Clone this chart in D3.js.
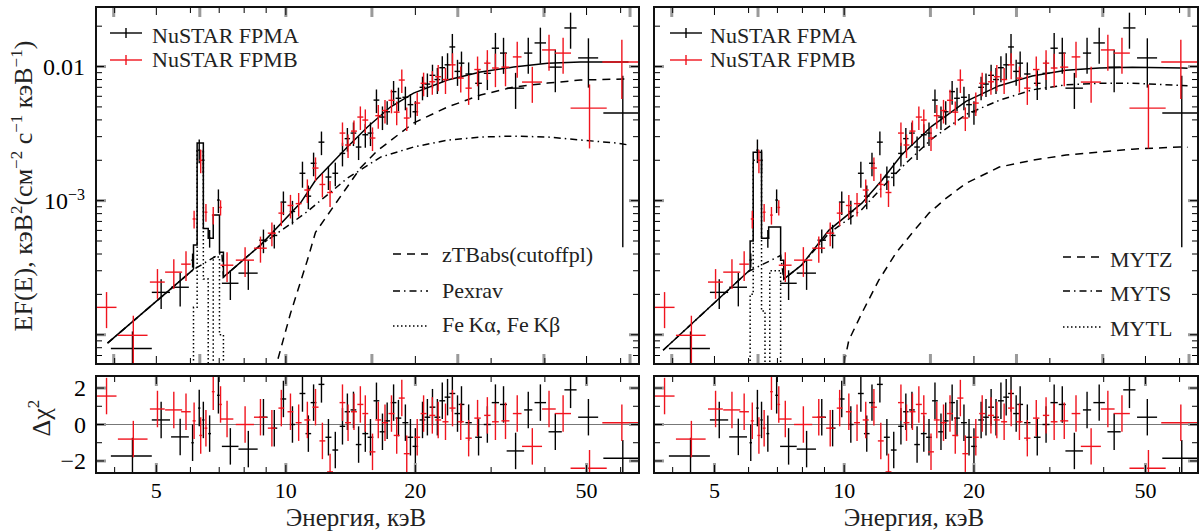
<!DOCTYPE html>
<html>
<head>
<meta charset="utf-8">
<script src="https://cdn.jsdelivr.net/npm/d3@7"></script>
<style>
	body { margin: 0; background: #fff; }
	svg { display: block; font-family: "Liberation Serif", "Times New Roman", serif; }
</style>
</head>
<body>
<svg id="chart" width="1199" height="532"></svg>
<script>
// ---- spectrum data (NuSTAR FPMA / FPMB), energy in keV, EF(E) flux, relative error, residual ----
var fpmaE   = [4.40,5.13,5.68,6.07,6.29,6.43,6.65,6.97,7.43,8.18,8.87,9.40,9.87,10.36,10.93,11.28,11.6,12.1,12.56,13.03,13.54,13.9,14.36,14.76,15.3,15.73,16.24,16.77,17.2,17.8,18.27,18.96,19.48,20.0,20.78,21.33,21.92,22.5,23.1,23.76,24.38,25.06,25.6,26.6,28.05,29.4,30.7,32.06,34.2,36.6,39.05,42.3,45.9,50.5,60.7];
var fpmaDE  = [0.48,0.25,0.27,0.04,0.04,0.04,0.05,0.05,0.33,0.42,0.2,0.15,0.15,0.15,0.17,0.17,0.18,0.19,0.2,0.2,0.2,0.2,0.22,0.22,0.24,0.24,0.25,0.25,0.26,0.27,0.28,0.3,0.3,0.3,0.32,0.33,0.34,0.35,0.36,0.37,0.38,0.4,0.4,0.45,0.5,0.55,0.6,0.6,1.6,0.8,1.2,1.5,1.5,2.7,6.0];
var fpmaF   = [7.9e-5,2.07e-4,2.26e-4,3.6e-4,2.38e-3,2.0e-3,5.25e-4,1.01e-3,2.42e-4,2.88e-4,5.07e-4,5.5e-4,9.75e-4,8.3e-4,1.6e-3,1.08e-3,1.9e-3,2.73e-3,1.5e-3,1.6e-3,2.25e-3,2.9e-3,3.19e-3,2.51e-3,3.1e-3,3.19e-3,5.62e-3,4.2e-3,4.6e-3,6.5e-3,5.8e-3,5.9e-3,5.2e-3,4.6e-3,7.0e-3,7.4e-3,8.6e-3,8.0e-3,9.8e-3,1.03e-2,1.4e-2,9.2e-3,1.06e-2,8.8e-3,7.5e-3,8.9e-3,1.37e-2,1.26e-2,6.9e-3,1.26e-2,1.5e-2,9.9e-3,1.94e-2,1.16e-2,4.5e-3];
var fpmaErr = [0.34,0.25,0.28,0.12,0.2,0.2,0.15,0.2,0.25,0.25,
	0.2,0.2,0.2,0.2,0.22,0.2,0.2,0.2,0.2,0.2,0.2,0.2,0.2,0.2,0.2,0.2,0.2,0.2,0.2,0.2,0.2,0.2,0.2,0.2,0.2,0.2,0.2,
	0.22,0.22,0.22,0.25,0.22,0.22,0.22,0.25,0.25,0.3,0.3,0.3,0.3,0.3,0.35,0.3,0.4,0.9];
var fpmaRes = [-1.73,0.25,-0.68,-1.0,0.9,0.25,-0.5,1.6,-1.2,-1.35,0.4,-0.2,1.4,0.0,1.7,-0.5,1.2,2.2,-0.7,-1.4,-0.1,0.7,0.8,-1.1,-0.5,-0.7,1.3,-0.4,0.2,1.2,0.35,0.1,-0.7,-1.2,0.25,0.4,0.95,0.4,1.3,1.5,1.7,0.6,1.1,0.1,-0.7,0.0,1.2,1.1,-1.45,0.8,1.2,-0.4,1.9,0.4,-1.85];

var fpmbE   = [3.83,4.42,5.03,5.49,5.86,6.12,6.34,6.52,6.78,7.05,7.30,8.04,8.73,9.28,9.76,10.25,10.71,11.22,11.72,12.16,12.67,13.54,13.95,14.4,14.9,15.3,15.9,16.4,17.0,17.6,18.1,18.6,19.1,20.2,20.9,21.9,22.6,23.5,24.4,25.5,26.6,27.9,29.4,30.7,32.4,34.5,37.4,40.9,44.1,50.8,60.4];
var fpmbDE  = [0.21,0.35,0.2,0.25,0.15,0.05,0.05,0.05,0.05,0.05,0.25,0.39,0.3,0.2,0.15,0.16,0.17,0.18,0.19,0.19,0.2,0.21,0.22,0.23,0.24,0.24,0.25,0.26,0.27,0.28,0.29,0.3,0.3,0.32,0.33,0.35,0.36,0.38,0.4,0.42,0.45,0.48,0.5,0.55,0.7,0.8,2.0,1.5,1.9,4.9,6.0];
var fpmbF   = [1.6e-4,9.9e-5,2.47e-4,2.93e-4,3.36e-4,7.3e-4,2.0e-3,8.2e-4,7.8e-4,8.9e-4,3.3e-4,3.6e-4,4.42e-4,5.72e-4,8.07e-4,9.2e-4,9.5e-4,1.2e-3,1.75e-3,1.32e-3,1.15e-3,3.19e-3,2.6e-3,3.3e-3,4.2e-3,3.99e-3,2.93e-3,4.3e-3,4.7e-3,5.6e-3,4.57e-3,7.93e-3,4.13e-3,5.34e-3,7.5e-3,7.7e-3,8.4e-3,8.0e-3,1.03e-2,8.2e-3,6.9e-3,9.5e-3,1.06e-2,9.75e-3,9.9e-3,1.18e-2,7.66e-3,1.33e-2,1.26e-2,4.9e-3,1.08e-2];
var fpmbErr = [0.3,0.4,0.25,0.25,0.25,0.15,0.2,0.15,0.15,0.13,0.25,0.25,0.22,0.2,
	0.2,0.2,0.2,0.2,0.2,0.2,0.22,0.2,0.2,0.2,0.2,0.2,0.2,0.2,0.2,0.2,0.2,0.2,0.2,0.2,0.2,0.2,
	0.22,0.22,0.22,0.22,0.25,0.25,0.25,0.28,0.28,0.3,0.3,0.3,0.3,0.5,0.47];
var fpmbRes = [1.56,-0.8,0.85,0.8,0.7,0.2,-0.6,-0.2,1.8,1.1,0.3,0.0,0.4,-0.2,0.9,0.7,0.1,0.25,0.95,-0.9,-2.6,1.2,0.1,0.7,1.1,0.6,-1.5,0.25,0.1,0.6,-0.6,1.45,-1.6,-0.7,0.6,0.5,0.25,0.15,0.9,0.15,-0.75,0.35,0.5,0.15,0.2,0.6,-1.2,0.85,0.6,-2.4,0.1];

// ---- models, left panel: zTBabs(cutoffpl) + Pexrav + Fe lines ----
var leftTotalE = [3.85,6.07,6.10,6.10,6.22,6.22,6.43,6.43,6.60,6.60,6.78,6.78,7.01,7.01,7.16,7.16,8.73,10.81,11.72,13.9,15.48,17.5,19.81,23.76,28.35,33.82,40.56,48.4,62.6];
var leftTotalF = [8.65e-5,3.03e-4,3.1e-4,4.66e-4,4.66e-4,2.69e-3,2.69e-3,6.2e-4,6.2e-4,5.25e-4,5.25e-4,7.8e-4,7.8e-4,4.12e-4,4.12e-4,2.69e-4,4.66e-4,9.58e-4,1.42e-3,2.51e-3,3.54e-3,4.99e-3,6.34e-3,7.93e-3,9.1e-3,9.91e-3,1.06e-2,1.08e-2,1.08e-2];
var leftCutE = [9.3,9.51,10.25,11.22,11.72,14.9,16.3,19.8,23.76,28.35,33.8,40.6,48.4,62.6];
var leftCutF = [2e-5,6.0e-5,1.44e-4,3.59e-4,5.8e-4,1.75e-3,2.35e-3,3.79e-3,4.99e-3,6.13e-3,7.03e-3,7.53e-3,7.93e-3,8.1e-3];
var leftPexE = [3.85,6.07,7.10,7.16,8.73,10.25,11.22,13.9,16.6,19.8,23.8,28.35,33.8,40.6,48.4,58.8,62.6];
var leftPexF = [8.65e-5,3.03e-4,4.1e-4,2.69e-4,4.66e-4,6.7e-4,8.3e-4,1.47e-3,2.11e-3,2.51e-3,2.83e-3,2.98e-3,3.03e-3,2.98e-3,2.83e-3,2.69e-3,2.6e-3];
var leftFeE = [6.05,6.10,6.10,6.22,6.22,6.43,6.43,6.60,6.60,6.78,6.78,7.01,7.01,7.16,7.16,7.2];
var leftFeF = [1e-6,1e-6,1.6e-4,1.6e-4,2.36e-3,2.36e-3,2.6e-4,2.6e-4,1e-6,1e-6,3.8e-4,3.8e-4,1.0e-4,1.0e-4,1e-6,1e-6];

// ---- models, right panel: MYTorus components ----
var rightTotalE = [3.80,5.98,6.05,6.05,6.15,6.15,6.43,6.43,6.68,6.68,7.12,7.12,7.24,7.24,7.96,9.21,10.99,12.23,13.6,15.98,19.17,22.9,27.3,32.7,39.1,46.6,61.0,62.6];
var rightTotalF = [7.66e-5,2.95e-4,3.05e-4,5.0e-4,5.0e-4,2.3e-3,2.3e-3,5.25e-4,5.25e-4,6.35e-4,6.35e-4,3.6e-4,3.6e-4,2.6e-4,3.3e-4,6.0e-4,9.58e-4,1.42e-3,2.2e-3,3.6e-3,5.5e-3,7.2e-3,8.5e-3,9.4e-3,9.75e-3,9.9e-3,9.75e-3,9.7e-3];
var rightMytzE = [9.8,9.98,10.25,10.99,12.03,13.18,14.36,15.73,17.22,19.2,22.9,27.3,32.7,39.1,46.6,60.0,62.6];
var rightMytzF = [3e-5,6.0e-5,9.1e-5,1.45e-4,2.55e-4,4.06e-4,5.72e-4,8.07e-4,1.04e-3,1.35e-3,1.78e-3,2.0e-3,2.19e-3,2.3e-3,2.42e-3,2.51e-3,2.5e-3];
var rightMytsE = [3.80,5.98,7.12,7.24,7.96,9.21,10.99,12.23,13.9,16.0,19.2,22.9,27.3,32.7,39.1,46.6,60.0,62.6];
var rightMytsF = [7.66e-5,2.95e-4,3.9e-4,2.6e-4,3.3e-4,5.7e-4,8.6e-4,1.25e-3,1.9e-3,2.9e-3,4.4e-3,5.6e-3,6.7e-3,7.3e-3,7.5e-3,7.5e-3,7.25e-3,7.2e-3];
var rightMytlE = [5.98,6.05,6.05,6.15,6.15,6.43,6.43,6.55,6.55,6.72,6.72,7.12,7.12,7.2];
var rightMytlF = [1e-6,1e-6,2.0e-4,2.0e-4,2.0e-3,2.0e-3,1.5e-4,1.5e-4,1e-6,1e-6,3.0e-4,3.0e-4,1e-6,1e-6];

// ---- axes ----
var energyDomain = [3.62, 66.2];
var fluxDomain   = [6.05e-5, 0.0278];
var resDomain    = [-2.66, 2.66];
var xBlackTicks  = [4,5,6,7,8,9,10,20,30,40,50,60];
var xMajorTicks  = [5,10,20,50];
var xGrayTopTicks = [3.98,6.31,10,15.85,25.1,39.8,63.1];
var yLabelTicks  = [0.01, 0.001];
var resTicks     = [-2,-1,0,1,2];
var resGrayTicks = [-2,0,2];

var RED  = "#f0141e";
var GRAY = "#9a9a9a";
var TOP0 = 7, TOP1 = 364, RES0 = 376, RES1 = 473;

var svg  = d3.select("#chart");
var defs = svg.append("defs");

function pairs(E, F) {
	return E.map(function(e, i) { return [e, F[i]]; });
}
function points(E, DE, F, ERR, RES) {
	return E.map(function(e, i) {
		return {e: e, de: DE[i], f: F[i], err: ERR[i], r: RES[i]};
	});
}

var fpma = points(fpmaE, fpmaDE, fpmaF, fpmaErr, fpmaRes);
var fpmb = points(fpmbE, fpmbDE, fpmbF, fpmbErr, fpmbRes);

var panels = [
	{
		id: "L", x0: 96, x1: 639, labels: true, xTitle: 356,
		lgCross: 110, lgText: 152,
		models: [
			{d: pairs(leftTotalE, leftTotalF), dash: null},
			{d: pairs(leftCutE, leftCutF),     dash: "8,6"},
			{d: pairs(leftPexE, leftPexF),     dash: "7,4,1.5,4"},
			{d: pairs(leftFeE, leftFeF),       dash: "1.5,2.5"}
		],
		comps: [
			{name: "zTBabs(cutoffpl)", dash: "8,6", y: 254, ty: 262},
			{name: "Pexrav", dash: "7,4,1.5,4", y: 291, ty: 298},
			{name: "Fe\u2009K\u03b1, Fe\u2009K\u03b2", dash: "1.5,2.5", y: 326, ty: 332}
		],
		compLine: [393, 428], compText: 442
	},
	{
		id: "R", x0: 654, x1: 1198, labels: false, xTitle: 914,
		lgCross: 670, lgText: 710,
		models: [
			{d: pairs(rightTotalE, rightTotalF), dash: null},
			{d: pairs(rightMytzE, rightMytzF),   dash: "8,6"},
			{d: pairs(rightMytsE, rightMytsF),   dash: "7,4,1.5,4"},
			{d: pairs(rightMytlE, rightMytlF),   dash: "1.5,2.5"}
		],
		comps: [
			{name: "MYTZ", dash: "8,6", y: 257, ty: 267},
			{name: "MYTS", dash: "7,4,1.5,4", y: 291, ty: 301},
			{name: "MYTL", dash: "1.5,2.5", y: 327, ty: 336}
		],
		compLine: [1063, 1102], compText: 1110
	}
];

panels.forEach(drawPanel);

function tick(g, x1, y1, x2, y2, color, w) {
	g.append("line")
		.attr("x1", x1).attr("y1", y1).attr("x2", x2).attr("y2", y2)
		.attr("stroke", color).attr("stroke-width", w);
}

function drawCrosses(g, pts, color, x, yOf) {
	pts.forEach(function(p) {
		var c = yOf(p);
		tick(g, x(Math.max(p.e - p.de, 1)), c.y, x(p.e + p.de), c.y, color, 1.4);
		tick(g, x(p.e), c.lo, x(p.e), c.hi, color, 1.4);
	});
}

function drawPanel(p) {
	var x  = d3.scaleLog().domain(energyDomain).range([p.x0, p.x1]);
	var yF = d3.scaleLog().domain(fluxDomain).range([TOP1, TOP0]);
	var yR = d3.scaleLinear().domain(resDomain).range([RES1, RES0]);

	defs.append("clipPath").attr("id", "clipT" + p.id)
		.append("rect").attr("x", p.x0).attr("y", TOP0).attr("width", p.x1 - p.x0).attr("height", TOP1 - TOP0);
	defs.append("clipPath").attr("id", "clipR" + p.id)
		.append("rect").attr("x", p.x0).attr("y", RES0).attr("width", p.x1 - p.x0).attr("height", RES1 - RES0);

	var gT = svg.append("g").attr("clip-path", "url(#clipT" + p.id + ")");
	var gR = svg.append("g").attr("clip-path", "url(#clipR" + p.id + ")");
	var gA = svg.append("g");

	// models
	var line = d3.line()
		.x(function(d) { return x(d[0]); })
		.y(function(d) { return yF(d[1]); });
	p.models.forEach(function(m) {
		gT.append("path")
			.attr("d", line(m.d))
			.attr("fill", "none")
			.attr("stroke", "#000")
			.attr("stroke-width", 1.5)
			.attr("stroke-dasharray", m.dash);
	});

	// spectra
	function topY(q) {
		var lo = q.f * (1 - q.err);
		return {y: yF(q.f), lo: yF(lo > 1e-7 ? lo : 1e-7), hi: yF(q.f * (1 + q.err))};
	}
	function resY(q) {
		return {y: yR(q.r), lo: yR(q.r - 1), hi: yR(q.r + 1)};
	}
	drawCrosses(gT, fpma, "#000", x, topY);
	drawCrosses(gT, fpmb, RED, x, topY);

	// residuals
	tick(gR, p.x0, yR(0), p.x1, yR(0), "#777", 1);
	drawCrosses(gR, fpma, "#000", x, resY);
	drawCrosses(gR, fpmb, RED, x, resY);

	// x ticks, both panels
	xGrayTopTicks.forEach(function(v) {
		var px = x(v);
		tick(gA, px, TOP0, px, TOP0 + 10, GRAY, 3);
		tick(gA, px, TOP1, px, TOP1 - 10, GRAY, 3);
	});
	xMajorTicks.forEach(function(v) {
		var px = x(v);
		tick(gA, px, RES0, px, RES0 + 10, GRAY, 3);
		tick(gA, px, RES1, px, RES1 - 10, GRAY, 3);
	});
	xBlackTicks.forEach(function(v) {
		var px = x(v);
		var len = xMajorTicks.indexOf(v) >= 0 ? 8 : 6;
		tick(gA, px, TOP0, px, TOP0 + len, "#000", 1);
		tick(gA, px, TOP1, px, TOP1 - len, "#000", 1);
		tick(gA, px, RES0, px, RES0 + len, "#000", 1);
		tick(gA, px, RES1, px, RES1 - len, "#000", 1);
	});

	// y ticks, flux
	yF.ticks().forEach(function(v) {
		var py = yF(v);
		if (py < TOP0 || py > TOP1) return;
		var major = Math.abs(Math.log10(v) - Math.round(Math.log10(v))) < 1e-6;
		if (major) {
			tick(gA, p.x0, py, p.x0 + 10, py, GRAY, 3);
			tick(gA, p.x1, py, p.x1 - 10, py, GRAY, 3);
		}
		var len = major ? 8 : 6;
		tick(gA, p.x0, py, p.x0 + len, py, "#000", 1);
		tick(gA, p.x1, py, p.x1 - len, py, "#000", 1);
	});

	// y ticks, residuals
	resGrayTicks.forEach(function(v) {
		tick(gA, p.x0, yR(v), p.x0 + 10, yR(v), GRAY, 3);
		tick(gA, p.x1, yR(v), p.x1 - 10, yR(v), GRAY, 3);
	});
	resTicks.forEach(function(v) {
		var len = v % 2 === 0 ? 8 : 6;
		tick(gA, p.x0, yR(v), p.x0 + len, yR(v), "#000", 1);
		tick(gA, p.x1, yR(v), p.x1 - len, yR(v), "#000", 1);
	});

	// frames
	gA.append("rect").attr("x", p.x0).attr("y", TOP0).attr("width", p.x1 - p.x0).attr("height", TOP1 - TOP0)
		.attr("fill", "none").attr("stroke", "#111").attr("stroke-width", 2);
	gA.append("rect").attr("x", p.x0).attr("y", RES0).attr("width", p.x1 - p.x0).attr("height", RES1 - RES0)
		.attr("fill", "none").attr("stroke", "#111").attr("stroke-width", 2);

	// x tick labels + title
	xMajorTicks.forEach(function(v) {
		gA.append("text").attr("x", x(v)).attr("y", 498)
			.attr("text-anchor", "middle").attr("font-size", 22).text(v);
	});
	gA.append("text").attr("x", p.xTitle).attr("y", 526)
		.attr("text-anchor", "middle").attr("font-size", 25).attr("fill", "#222")
		.text("Энергия, кэВ");

	// detector legend
	[{name: "NuSTAR FPMA", c: "#000", y: 33, ty: 43}, {name: "NuSTAR FPMB", c: RED, y: 60, ty: 67}].forEach(function(l) {
		var cx = p.lgCross + 16;
		tick(gA, p.lgCross, l.y, p.lgCross + 32, l.y, l.c, 1.4);
		tick(gA, cx, l.y - 5, cx, l.y + 5, l.c, 1.4);
		gA.append("text").attr("x", p.lgText).attr("y", l.ty)
			.attr("font-size", 22).attr("fill", "#222").text(l.name);
	});

	// component legend
	p.comps.forEach(function(c) {
		gA.append("line")
			.attr("x1", p.compLine[0]).attr("x2", p.compLine[1])
			.attr("y1", c.y).attr("y2", c.y)
			.attr("stroke", "#000").attr("stroke-width", 1.5)
			.attr("stroke-dasharray", c.dash);
		gA.append("text").attr("x", p.compText).attr("y", c.ty)
			.attr("font-size", 22).attr("fill", "#222").text(c.name);
	});

	if (!p.labels) return;

	// flux labels
	gA.append("text").attr("x", 85).attr("y", yF(yLabelTicks[0]) + 8)
		.attr("text-anchor", "end").attr("font-size", 24).text("0.01");
	var t3 = gA.append("text").attr("x", 85).attr("y", yF(yLabelTicks[1]) + 8)
		.attr("text-anchor", "end").attr("font-size", 24);
	t3.append("tspan").text("10");
	t3.append("tspan").attr("dy", -9).attr("font-size", 16).text("\u22123");

	// residual labels
	resGrayTicks.forEach(function(v) {
		gA.append("text").attr("x", 86).attr("y", yR(v) + 8)
			.attr("text-anchor", "end").attr("font-size", 24)
			.text(v < 0 ? "\u2212" + (-v) : v);
	});

	// y titles
	var yt = gA.append("text")
		.attr("transform", "translate(32,186) rotate(-90)")
		.attr("text-anchor", "middle").attr("font-size", 26).attr("fill", "#222");
	var parts = [["EF(E), кэВ", 0], ["2", -10], ["(см", 10], ["\u22122", -10], [" с", 10], ["\u22121", -10], [" кэВ", 10], ["\u22121", -10], [")", 10]];
	parts.forEach(function(s) {
		var ts = yt.append("tspan").attr("dy", s[1]).text(s[0]);
		if (s[1] < 0) ts.attr("font-size", 17);
	});

	var dt = gA.append("text")
		.attr("transform", "translate(50,418) rotate(-90)")
		.attr("text-anchor", "middle").attr("font-size", 26).attr("fill", "#222");
	dt.append("tspan").text("\u0394\u03c7");
	dt.append("tspan").attr("dy", -11).attr("font-size", 17).text("2");
}
</script>
</body>
</html>
